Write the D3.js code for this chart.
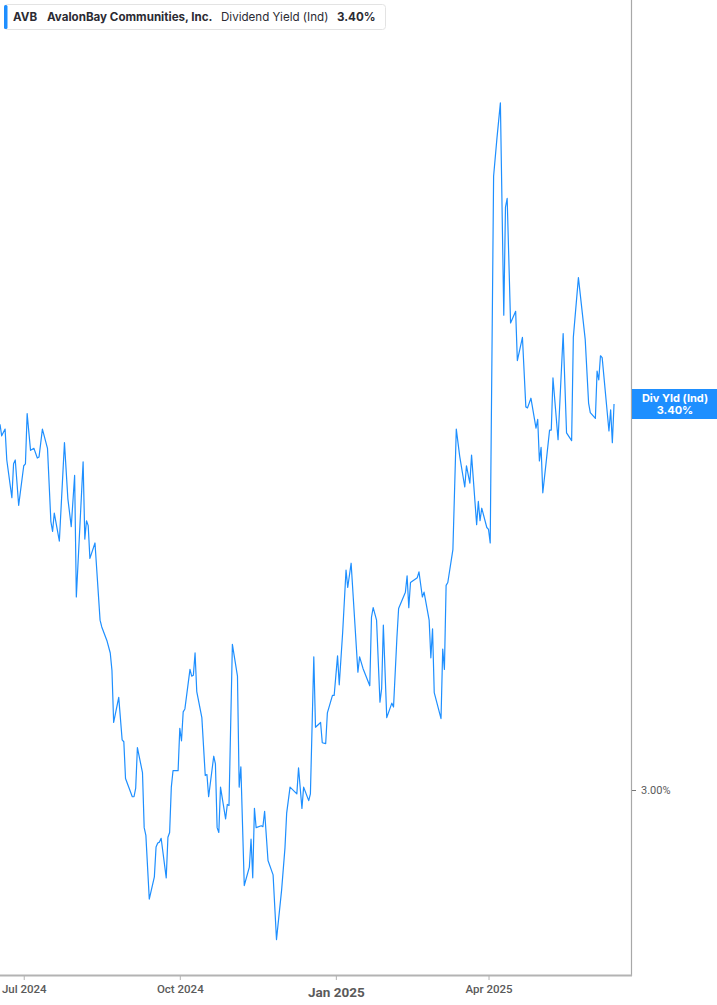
<!DOCTYPE html>
<html>
<head>
<meta charset="utf-8">
<script src="https://cdn.jsdelivr.net/npm/d3@7"></script>
<style>
  html, body { margin: 0; padding: 0; background: #fff; }
  svg { display: block; }
</style>
</head>
<body>
<svg id="chart" width="717" height="1005"></svg>
<script>
// ---- data ----
const dates = [
"2024-06-17","2024-06-18","2024-06-20","2024-06-21","2024-06-24","2024-06-25","2024-06-26","2024-06-28",
"2024-07-01","2024-07-02","2024-07-03","2024-07-05","2024-07-07","2024-07-09","2024-07-10","2024-07-12",
"2024-07-15","2024-07-17","2024-07-18","2024-07-19","2024-07-22","2024-07-25","2024-07-27","2024-07-29",
"2024-07-31","2024-08-01","2024-08-05","2024-08-06","2024-08-07","2024-08-08","2024-08-09","2024-08-12",
"2024-08-15","2024-08-16","2024-08-19","2024-08-21","2024-08-22","2024-08-23","2024-08-26","2024-08-28",
"2024-08-29","2024-08-30","2024-09-03","2024-09-04","2024-09-05","2024-09-06","2024-09-09","2024-09-10",
"2024-09-11","2024-09-13","2024-09-16","2024-09-17","2024-09-18","2024-09-19","2024-09-20","2024-09-23",
"2024-09-24","2024-09-25","2024-09-26","2024-09-27","2024-09-30","2024-10-01","2024-10-02","2024-10-03",
"2024-10-04","2024-10-07","2024-10-08","2024-10-09","2024-10-10","2024-10-11","2024-10-14","2024-10-16",
"2024-10-17","2024-10-18","2024-10-21","2024-10-22","2024-10-23","2024-10-24","2024-10-25","2024-10-28",
"2024-10-29","2024-10-30","2024-11-01","2024-11-04","2024-11-05","2024-11-06","2024-11-08","2024-11-11",
"2024-11-12","2024-11-13","2024-11-14","2024-11-15","2024-11-18","2024-11-19","2024-11-20","2024-11-22",
"2024-11-25","2024-11-27","2024-11-30","2024-12-02","2024-12-03","2024-12-05","2024-12-09","2024-12-10",
"2024-12-12","2024-12-13","2024-12-16","2024-12-17","2024-12-19","2024-12-20","2024-12-23","2024-12-24",
"2024-12-26","2024-12-27","2024-12-30","2024-12-31","2025-01-02","2025-01-03","2025-01-05","2025-01-07",
"2025-01-08","2025-01-10","2025-01-14","2025-01-15","2025-01-17","2025-01-21","2025-01-22","2025-01-23",
"2025-01-25","2025-01-27","2025-01-28","2025-01-29","2025-01-31","2025-02-03","2025-02-04","2025-02-06",
"2025-02-07","2025-02-11","2025-02-12","2025-02-13","2025-02-14","2025-02-18","2025-02-19","2025-02-21",
"2025-02-22","2025-02-25","2025-02-26","2025-02-27","2025-02-28","2025-03-04","2025-03-05","2025-03-06",
"2025-03-07","2025-03-08","2025-03-11","2025-03-13","2025-03-15","2025-03-18","2025-03-19","2025-03-21",
"2025-03-22","2025-03-25","2025-03-26","2025-03-27","2025-03-28","2025-03-31","2025-04-01","2025-04-02",
"2025-04-04","2025-04-06","2025-04-08","2025-04-10","2025-04-11","2025-04-12","2025-04-14","2025-04-17",
"2025-04-18","2025-04-21","2025-04-23","2025-04-24","2025-04-26","2025-04-29","2025-04-30","2025-05-01",
"2025-05-02","2025-05-03","2025-05-05","2025-05-07","2025-05-08","2025-05-09","2025-05-12","2025-05-15",
"2025-05-17","2025-05-20","2025-05-21","2025-05-24","2025-05-28","2025-05-30","2025-05-31","2025-06-03",
"2025-06-04","2025-06-05","2025-06-06","2025-06-07","2025-06-11","2025-06-12","2025-06-13","2025-06-14"
];
const yieldPct = [
3.379,3.367,3.374,3.342,3.303,3.338,3.342,3.295,
3.336,3.338,3.390,3.352,3.354,3.344,3.345,3.374,
3.354,3.278,3.268,3.287,3.258,3.360,3.302,3.273,
3.326,3.200,3.340,3.260,3.279,3.274,3.240,3.256,
3.176,3.169,3.155,3.142,3.124,3.070,3.096,3.052,
3.050,3.012,2.993,2.993,3.002,3.044,3.018,2.961,
2.953,2.887,2.910,2.941,2.945,2.946,2.950,2.909,
2.951,2.956,3.003,3.020,3.020,3.064,3.051,3.081,
3.084,3.125,3.118,3.119,3.142,3.102,3.075,3.015,
3.016,2.993,3.035,3.027,2.961,2.956,3.003,2.970,
2.985,2.984,3.151,3.118,3.003,3.024,2.901,2.920,
2.949,2.909,2.981,2.961,2.963,2.962,2.978,2.927,
2.912,2.845,2.896,2.940,2.976,3.003,2.996,3.023,
2.981,3.003,2.989,2.996,3.138,3.065,3.070,3.049,
3.048,3.080,3.098,3.098,3.139,3.109,3.163,3.228,
3.210,3.235,3.122,3.138,3.126,3.108,3.179,3.189,
3.176,3.091,3.105,3.171,3.075,3.090,3.086,3.158,
3.188,3.205,3.222,3.189,3.215,3.220,3.226,3.200,
3.205,3.176,3.137,3.167,3.101,3.074,3.146,3.125,
3.212,3.215,3.249,3.374,3.346,3.314,3.336,3.318,
3.347,3.275,3.299,3.279,3.292,3.272,3.270,3.256,
3.636,3.676,3.712,3.492,3.604,3.613,3.484,3.496,
3.445,3.469,3.397,3.396,3.406,3.375,3.384,3.341,
3.355,3.308,3.340,3.373,3.373,3.427,3.363,3.473,
3.370,3.362,3.469,3.531,3.467,3.401,3.391,3.385,
3.434,3.425,3.450,3.448,3.372,3.394,3.360,3.400
];
const xTickDates = ["2024-07-01","2024-10-01","2025-01-01","2025-04-01"];
const xTickLabels = ["Jul 2024","Oct 2024","Jan 2025","Apr 2025"];
const yTickValues = [3.00];
const ticker = "AVB";
const company = "AvalonBay Communities, Inc.";
const metric = "Dividend Yield (Ind)";
const badgeLabel = "Div Yld (Ind)";
const lastValue = 3.40;

// ---- drawing ----
const parse = d3.timeParse("%Y-%m-%d");
const data = dates.map((d, i) => ({ date: parse(d), v: yieldPct[i] }));

const svg = d3.select("#chart");
const plotW = 631, plotH = 975;
const blue = "#1e8fff";
const font = "Inter, 'Noto Sans', sans-serif";

const x = d3.scaleTime()
  .domain([parse("2024-06-17"), parse("2025-06-24")])
  .range([0, plotW]);
const y = d3.scaleLinear()
  .domain([3 - 185 / 965, 3 + 790 / 965])
  .range([plotH, 0]);

// line
const line = d3.line().x(d => x(d.date)).y(d => y(d.v));
svg.append("path")
  .datum(data)
  .attr("fill", "none")
  .attr("stroke", blue)
  .attr("stroke-width", 1.2)
  .attr("stroke-linejoin", "round")
  .attr("d", line);

// right border
svg.append("line")
  .attr("x1", plotW + 0.5).attr("x2", plotW + 0.5)
  .attr("y1", 0).attr("y2", plotH + 1)
  .attr("stroke", "#a8a8a8").attr("stroke-width", 1.2);

// bottom axis
const xAxis = d3.axisBottom(x)
  .tickValues(xTickDates.map(parse))
  .tickSize(5)
  .tickFormat((d, i) => xTickLabels[i]);
const gx = svg.append("g")
  .attr("transform", `translate(0,${plotH})`)
  .call(xAxis);
gx.select(".domain").attr("d", `M0,0.5H${plotW + 1}`).attr("stroke", "#b3b3b3").attr("stroke-width", 2);
gx.selectAll(".tick line").attr("stroke", "#b3b3b3");
gx.selectAll(".tick text")
  .attr("y", 10)
  .attr("fill", "#5a5a5a")
  .style("font-family", "Roboto, 'Noto Sans', sans-serif")
  .style("font-weight", (d, i) => xTickLabels[i].startsWith("Jan") ? 700 : 500)
  .style("font-size", (d, i) => xTickLabels[i].startsWith("Jan") ? "13.5px" : "11.5px");
gx.selectAll(".tick text").filter((d, i) => xTickLabels[i].startsWith("Jan")).attr("y", 12);

// right axis
const yAxis = d3.axisRight(y)
  .tickValues(yTickValues)
  .tickSize(4)
  .tickPadding(5)
  .tickFormat(d => d.toFixed(2) + "%");
const gy = svg.append("g")
  .attr("transform", `translate(${plotW + 1},0)`)
  .call(yAxis);
gy.select(".domain").remove();
gy.selectAll(".tick line").attr("stroke", "#777");
gy.selectAll(".tick text")
  .attr("fill", "#5a5a5a")
  .style("font-family", "Roboto, 'Noto Sans', sans-serif")
  .style("font-size", "11px");

// last value badge
const yLast = y(lastValue);
const badge = svg.append("g");
badge.append("rect")
  .attr("x", plotW + 1).attr("y", yLast - 15)
  .attr("width", 717 - plotW - 1).attr("height", 30)
  .attr("fill", blue);
badge.append("text")
  .attr("x", (plotW + 717) / 2 + 1).attr("y", yLast - 2)
  .attr("text-anchor", "middle")
  .attr("fill", "#fff")
  .style("font-family", font).style("font-size", "11px").style("font-weight", 700)
  .text(badgeLabel);
badge.append("text")
  .attr("x", (plotW + 717) / 2 + 1).attr("y", yLast + 10)
  .attr("text-anchor", "middle")
  .attr("fill", "#fff")
  .style("font-family", font).style("font-size", "11px").style("font-weight", 700)
  .text(lastValue.toFixed(2) + "%");

// legend
const leg = svg.append("g");
leg.append("rect")
  .attr("x", 4.5).attr("y", 4.5).attr("width", 381).attr("height", 25)
  .attr("rx", 3)
  .attr("fill", "#fff").attr("stroke", "#e3e3e3");
leg.append("rect")
  .attr("x", 4).attr("y", 5).attr("width", 3.5).attr("height", 24)
  .attr("rx", 1.5)
  .attr("fill", blue);
const legItems = [
  { t: ticker, x: 13, w: 700 },
  { t: company, x: 47, w: 700 },
  { t: metric, x: 221, w: 400 },
  { t: lastValue.toFixed(2) + "%", x: 337, w: 700 }
];
leg.selectAll("text.li").data(legItems).join("text")
  .attr("class", "li")
  .attr("x", d => d.x).attr("y", 21)
  .attr("fill", "#2b2b33")
  .style("font-family", font).style("font-size", "11.6px")
  .style("font-weight", d => d.w)
  .text(d => d.t);
</script>
</body>
</html>
